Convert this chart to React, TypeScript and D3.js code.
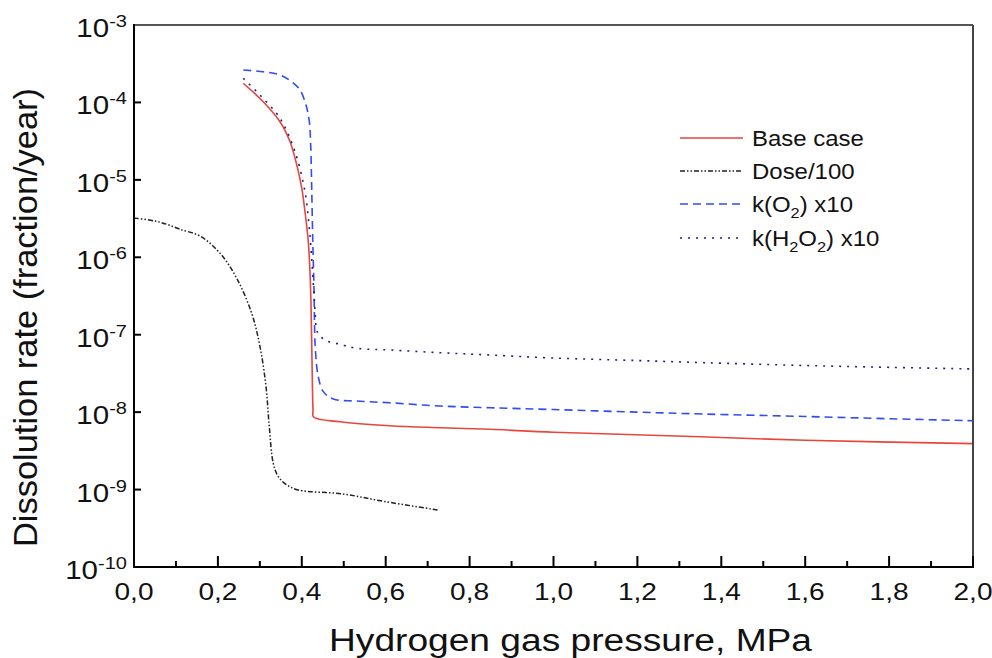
import React from "react";
import * as d3 from "d3";

const basePressure = [0.2605, 0.308, 0.348, 0.372, 0.388, 0.4, 0.4076, 0.4155, 0.4195, 0.422, 0.4243, 0.4267, 0.428, 0.491, 0.61, 0.7294, 0.8486, 1.0, 1.349, 1.6, 2.0];
const baseRate = [1.77e-4, 1.02e-4, 5.64e-5, 3.11e-5, 1.56e-5, 7.78e-6, 3.88e-6, 1.59e-6, 6.51e-7, 2.42e-7, 4.71e-8, 1.07e-8, 8.65e-9, 7.53e-9, 6.68e-9, 6.29e-9, 6.0e-9, 5.5e-9, 4.82e-9, 4.33e-9, 3.92e-9];

const dosePressure = [0, 0.05, 0.08, 0.1097, 0.1573, 0.205, 0.2448, 0.2806, 0.3004, 0.3147, 0.3225, 0.332, 0.344, 0.364, 0.3917, 0.498, 0.598, 0.7247];
const doseRate = [3.21e-6, 2.94e-6, 2.65e-6, 2.3e-6, 1.88e-6, 1.13e-6, 5.36e-7, 1.89e-7, 7.0e-8, 2.13e-8, 6.49e-9, 2.18e-9, 1.47e-9, 1.15e-9, 9.88e-10, 8.77e-10, 7.0e-10, 5.45e-10];

const kO2Pressure = [0.2605, 0.308, 0.348, 0.376, 0.3957, 0.41, 0.418, 0.4212, 0.4236, 0.426, 0.4291, 0.4322, 0.4393, 0.4513, 0.475, 0.531, 0.61, 0.7294, 0.8486, 1.0, 1.2, 1.356, 1.6, 1.8, 2.0];
const kO2Rate = [2.62e-4, 2.49e-4, 2.26e-4, 1.85e-4, 1.45e-4, 9.27e-5, 5.64e-5, 2.82e-5, 7.78e-6, 1.76e-6, 3.98e-7, 6.68e-8, 2.87e-8, 1.84e-8, 1.48e-8, 1.39e-8, 1.32e-8, 1.2e-8, 1.14e-8, 1.08e-8, 1.0e-8, 9.46e-9, 8.79e-9, 8.22e-9, 7.75e-9];

const kH2O2Pressure = [0.2605, 0.3, 0.348, 0.3838, 0.4076, 0.4172, 0.4236, 0.4291, 0.4322, 0.437, 0.4553, 0.491, 0.531, 0.61, 0.7294, 0.8486, 1.0, 1.2, 1.356, 1.6, 1.8, 2.0];
const kH2O2Rate = [2.05e-4, 1.25e-4, 6.24e-5, 2.31e-5, 7.03e-6, 2.61e-6, 9.7e-7, 3.26e-7, 1.8e-7, 1.09e-7, 8.55e-8, 7.52e-8, 6.68e-8, 6.35e-8, 5.86e-8, 5.47e-8, 5.0e-8, 4.64e-8, 4.36e-8, 4.0e-8, 3.79e-8, 3.61e-8];

const xMajorTicks = [0, 0.2, 0.4, 0.6, 0.8, 1.0, 1.2, 1.4, 1.6, 1.8, 2.0];
const xMinorTicks = [0.1, 0.3, 0.5, 0.7, 0.9, 1.1, 1.3, 1.5, 1.7, 1.9];
const yExponents = [-3, -4, -5, -6, -7, -8, -9, -10];

const xTitle = "Hydrogen gas pressure, MPa";
const yTitle = "Dissolution rate (fraction/year)";

const series = [
  { name: "base", px: basePressure, vy: baseRate, color: "#e8453c", dash: null, width: 1.6 },
  { name: "dose", px: dosePressure, vy: doseRate, color: "#222", dash: "5 2 1.5 2 1.5 2", width: 1.5 },
  { name: "kO2", px: kO2Pressure, vy: kO2Rate, color: "#2f4cf6", dash: "8 5", width: 1.6 },
  { name: "kH2O2", px: kH2O2Pressure, vy: kH2O2Rate, color: "#1e1e8c", dash: "2 6", width: 1.6 },
];

const L = 134, R = 973, T = 25, B = 567;
const FONT = "'Liberation Sans', Arial, sans-serif";

export default function App() {
  const x = d3.scaleLinear().domain([0, 2]).range([L, R]);
  const y = d3.scaleLog().domain([1e-10, 1e-3]).range([B, T]);
  const line = d3
    .line<[number, number]>()
    .x((d) => x(d[0]))
    .y((d) => y(d[1]))
    .curve(d3.curveCatmullRom.alpha(0.5));

  const legend = [
    { key: "base", yy: 138 },
    { key: "dose", yy: 171 },
    { key: "kO2", yy: 204 },
    { key: "kH2O2", yy: 238 },
  ];

  const legendLabel = (k: string) => {
    if (k === "base") return <tspan>Base case</tspan>;
    if (k === "dose") return <tspan>Dose/100</tspan>;
    if (k === "kO2")
      return (
        <>
          <tspan>k(O</tspan>
          <tspan fontSize={15} dy={6}>2</tspan>
          <tspan dy={-6}>) x10</tspan>
        </>
      );
    return (
      <>
        <tspan>k(H</tspan>
        <tspan fontSize={15} dy={6}>2</tspan>
        <tspan dy={-6}>O</tspan>
        <tspan fontSize={15} dy={6}>2</tspan>
        <tspan dy={-6}>) x10</tspan>
      </>
    );
  };

  return (
    <svg
      width={992}
      height={658}
      style={{ position: "absolute", left: 0, top: 0, background: "#fff" }}
      fontFamily={FONT}
    >
      <rect x={0} y={0} width={992} height={658} fill="#fff" />
      {series.map((s) => (
        <path
          key={s.name}
          d={line(s.px.map((p, i) => [p, s.vy[i]] as [number, number])) || ""}
          fill="none"
          stroke={s.color}
          strokeWidth={s.width}
          strokeDasharray={s.dash || undefined}
        />
      ))}
      <line x1={L} y1={T} x2={R} y2={T} stroke="#555" strokeWidth={2} />
      <line x1={R} y1={T} x2={R} y2={B} stroke="#444" strokeWidth={2} />
      <line x1={L} y1={T - 1} x2={L} y2={B + 1} stroke="#000" strokeWidth={2} />
      <line x1={L - 1} y1={B} x2={R + 1} y2={B} stroke="#000" strokeWidth={2} />
      {xMajorTicks.map((t) => (
        <g key={"xM" + t}>
          <line x1={x(t)} x2={x(t)} y1={B} y2={B - 11} stroke="#000" strokeWidth={2} />
          <text
            transform={`translate(${x(t)},600) scale(1.17,1)`}
            textAnchor="middle"
            fontSize={24}
            fill="#111"
          >
            {t.toFixed(1).replace(".", ",")}
          </text>
        </g>
      ))}
      {xMinorTicks.map((t) => (
        <line key={"xm" + t} x1={x(t)} x2={x(t)} y1={B} y2={B - 6} stroke="#000" strokeWidth={2} />
      ))}
      {yExponents.map((e) => {
        const yy = y(Math.pow(10, e));
        return (
          <g key={"y" + e}>
            {e !== -3 && e !== -10 && (
              <line x1={L} x2={L + 7} y1={yy} y2={yy} stroke="#000" strokeWidth={2} />
            )}
            <text
              transform={`translate(127,${yy + 12}) scale(1.18,1)`}
              textAnchor="end"
              fontSize={25}
              fill="#111"
            >
              <tspan>10</tspan>
              <tspan fontSize={17} dy={-10}>{String(e)}</tspan>
            </text>
          </g>
        );
      })}
      <text
        x={329}
        y={651}
        fontSize={31}
        fill="#111"
        textLength={483}
        lengthAdjust="spacingAndGlyphs"
      >
        {xTitle}
      </text>
      <text
        transform={`translate(37,547) rotate(-90)`}
        x={0}
        y={0}
        fontSize={33}
        fill="#111"
        textLength={459}
        lengthAdjust="spacingAndGlyphs"
      >
        {yTitle}
      </text>
      {legend.map((l) => {
        const s = series.find((q) => q.name === l.key)!;
        return (
          <g key={"lg" + l.key}>
            <line
              x1={680}
              x2={743}
              y1={l.yy}
              y2={l.yy}
              stroke={s.color}
              strokeWidth={s.width}
              strokeDasharray={s.dash || undefined}
            />
            <text
              transform={`translate(752,${l.yy + 8}) scale(1.09,1)`}
              fontSize={22}
              fill="#111"
            >
              {legendLabel(l.key)}
            </text>
          </g>
        );
      })}
    </svg>
  );
}
